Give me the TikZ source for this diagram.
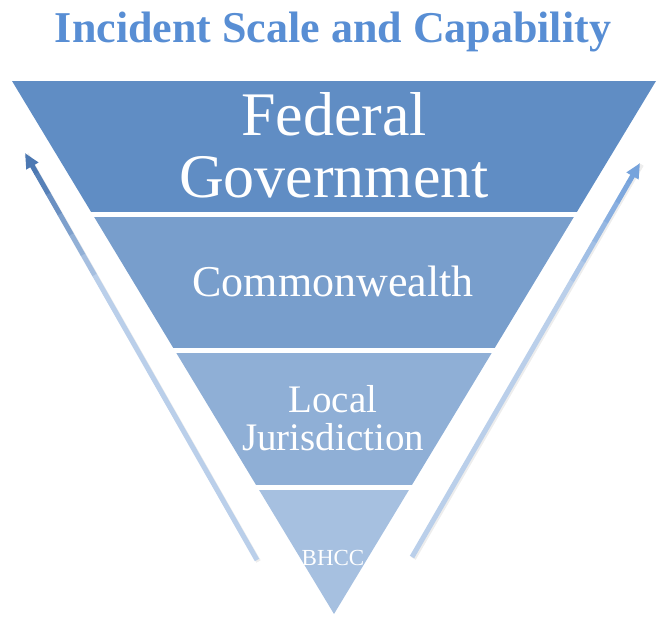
\documentclass[tikz,border=0pt]{standalone}
\usepackage{fontspec}
\setmainfont{Liberation Serif}
\usetikzlibrary{arrows.meta,calc}
\definecolor{titleblue}{RGB}{88,142,212}
\definecolor{bandA}{RGB}{96,141,196}
\definecolor{bandB}{RGB}{120,158,204}
\definecolor{bandC}{RGB}{143,175,214}
\definecolor{bandD}{RGB}{166,192,224}
\definecolor{shaftblue}{RGB}{186,207,234}
\definecolor{tipleft}{RGB}{76,120,178}
\definecolor{tipright}{RGB}{118,163,220}

\begin{document}
\begin{tikzpicture}[x=1pt, y=1pt,
		bandlabel/.style={text=white, inner sep=0pt, align=center},
		shaft/.style={line width=5pt}]
	\useasboundingbox (0,0) rectangle (660,616);
	%title
	\node[anchor=base, text=titleblue, inner sep=0pt, font=\fontsize{44}{44}\selectfont\bfseries] (title) at (333,573) {Incident Scale and Capability};
	%funnel corners
	\coordinate (topL) at (12,535);
	\coordinate (topR) at (656,535);
	\coordinate (apex) at (334,2);
	%the four bands, cut out of the triangle
	\begin{scope}
		\clip (topL) -- (topR) -- (apex) -- cycle;
		\foreach \col/\lo/\hi in {bandA/404/535, bandB/268/399, bandC/131/263, bandD/0/126}
			\fill[\col] (0,\lo) rectangle (660,\hi);
	\end{scope}
	%band labels
	\node[bandlabel, font=\fontsize{62}{62}\selectfont] (federal) at (334,471) {Federal\\Government};
	\node[bandlabel, anchor=base, font=\fontsize{44}{44}\selectfont] (cwealth) at (333,319) {Commonwealth};
	\node[bandlabel, font=\fontsize{39}{38}\selectfont] (local) at (333,198) {Local\\Jurisdiction};
	\node[bandlabel, anchor=base, font=\fontsize{23}{23}\selectfont] (bhcc) at (333,51) {BHCC};
	%side arrows
	\coordinate (lBot) at (257,56);
	\coordinate (lTip) at (25,463);
	\coordinate (rBot) at (412,59);
	\coordinate (rTip) at (640,453);
	\draw[shaft, black!7] ($(lBot)+(1.5,-1.5)$) -- ($(lTip)+(1.5,-1.5)$);
	\draw[shaft, black!7] ($(rBot)+(1.5,-1.5)$) -- ($(rTip)+(1.5,-1.5)$);
	\draw[shaft, shaftblue] (lBot) -- ($(lBot)!0.7!(lTip)$);
	\draw[shaft, shaftblue] (rBot) -- ($(rBot)!0.7!(rTip)$);
	\foreach \t [count=\k, evaluate=\k as \mix using int(\k*18)] in {0.70,0.75,0.80,0.85,0.90} {
		\draw[shaft, tipleft!\mix!shaftblue] ($(lBot)!\t!(lTip)$) -- ($(lBot)!\t+0.051!(lTip)$);
		\draw[shaft, tipright!\mix!shaftblue] ($(rBot)!\t!(rTip)$) -- ($(rBot)!\t+0.051!(rTip)$);
	}
	\draw[shaft, tipleft, -{Triangle[length=15pt,width=13pt]}] ($(lBot)!0.95!(lTip)$) -- (lTip);
	\draw[shaft, tipright, -{Triangle[length=15pt,width=13pt]}] ($(rBot)!0.95!(rTip)$) -- (rTip);
\end{tikzpicture}
\end{document}
